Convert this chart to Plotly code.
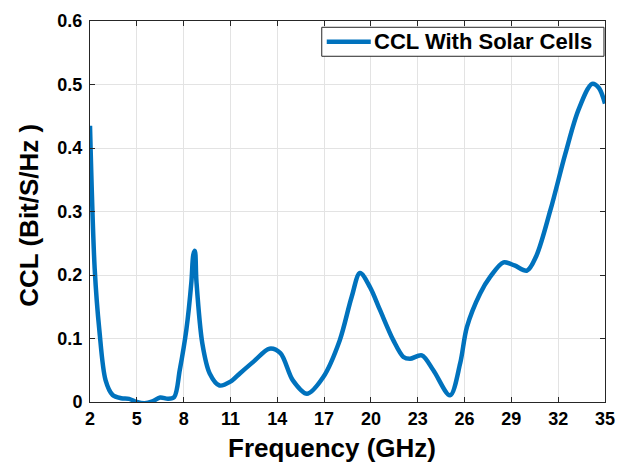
import plotly.graph_objects as go

# Channel capacity loss versus frequency
freq_ghz = [2.0, 2.3, 2.6, 3.0, 3.45, 4.0, 4.5, 5.0, 5.5, 6.0, 6.5, 7.0, 7.4,
            7.75, 8.17, 8.5, 8.62, 8.72, 8.82, 9.2, 9.67, 10.3, 11.0, 11.6, 12.5,
            13.5, 14.2, 15.0, 15.9, 16.94, 18.0, 18.76, 19.3, 19.94, 20.58,
            21.44, 22.08, 22.5, 23.26, 24.0, 25.07, 25.72, 26.15, 27.0, 27.64,
            28.5, 29.2, 30.0, 30.6, 31.5, 32.46, 33.3, 34.17, 34.6, 35.0]
ccl = [0.435, 0.21, 0.113, 0.034, 0.011, 0.006, 0.005, 0.0, -0.002, 0.001,
       0.007, 0.005, 0.008, 0.05, 0.113, 0.19, 0.232, 0.238, 0.19, 0.092, 0.045,
       0.026, 0.032, 0.045, 0.064, 0.084, 0.077, 0.034, 0.013, 0.039, 0.097,
       0.165, 0.203, 0.181, 0.145, 0.097, 0.071, 0.068, 0.0735, 0.05, 0.0105,
       0.061, 0.118, 0.171, 0.197, 0.22, 0.215, 0.207, 0.23, 0.302, 0.391,
       0.46, 0.501, 0.495, 0.47]

x_ticks = [2, 5, 8, 11, 14, 17, 20, 23, 26, 29, 32, 35]
y_ticks = [0, 0.1, 0.2, 0.3, 0.4, 0.5, 0.6]
y_tick_labels = ["0", "0.1", "0.2", "0.3", "0.4", "0.5", "0.6"]
series_name = "CCL With Solar Cells"

FONT = "Liberation Sans, Arial, sans-serif"
AXIS_COLOR = "#262626"
GRID_COLOR = "#e3e3e3"
LINE_COLOR = "#0072BD"
LINE_WIDTH = 4.5

fig = go.Figure()
fig.add_trace(go.Scatter(
    x=freq_ghz, y=ccl, mode="lines", name=series_name, showlegend=False,
    line=dict(color=LINE_COLOR, width=LINE_WIDTH, shape="spline", smoothing=0.9),
))

axis_common = dict(
    showline=True, linecolor=AXIS_COLOR, linewidth=1, mirror="ticks",
    ticks="inside", ticklen=5, tickcolor=AXIS_COLOR,
    showgrid=True, gridcolor=GRID_COLOR, gridwidth=1, zeroline=False,
    automargin=False,
    tickfont=dict(family=FONT, size=18, color="#000000", weight="bold"),
)

fig.update_xaxes(range=[2, 35], tickvals=x_ticks,
                 ticktext=[str(t) for t in x_ticks], **axis_common)
fig.update_yaxes(range=[0, 0.6], tickvals=y_ticks,
                 ticktext=y_tick_labels, ticklabelstandoff=3, **axis_common)

title_font = dict(family=FONT, size=26, color="#000000")
fig.add_annotation(
    text="<b>Frequency (GHz)</b>", xref="paper", yref="paper",
    x=0.469, y=-0.121, xanchor="center", yanchor="middle",
    showarrow=False, font=title_font,
)
fig.add_annotation(
    text="<b>CCL (Bit/S/Hz )</b>", xref="paper", yref="paper",
    x=-0.1176, y=0.49, xanchor="center", yanchor="middle",
    showarrow=False, textangle=-90, font=title_font,
)

# Legend box in the upper right corner (box, line sample, label)
fig.add_shape(type="rect", xref="paper", yref="paper",
              x0=0.450, x1=0.998, y0=0.9074, y1=0.9835,
              line=dict(color=AXIS_COLOR, width=1), fillcolor="#ffffff",
              layer="above")
fig.add_shape(type="line", xref="paper", yref="paper",
              x0=0.4597, x1=0.5452, y0=0.9454, y1=0.9454,
              line=dict(color=LINE_COLOR, width=LINE_WIDTH), layer="above")
fig.add_annotation(
    text=f"<b>{series_name}</b>", xref="paper", yref="paper",
    x=0.548, y=0.9454, xanchor="left", yanchor="middle",
    showarrow=False, font=dict(family=FONT, size=22, color="#000000"),
)

fig.update_layout(
    width=618, height=475,
    margin=dict(l=90, r=13, t=21, b=73),
    paper_bgcolor="#ffffff", plot_bgcolor="#ffffff",
    showlegend=False,
)

fig.write_html("out.html")
